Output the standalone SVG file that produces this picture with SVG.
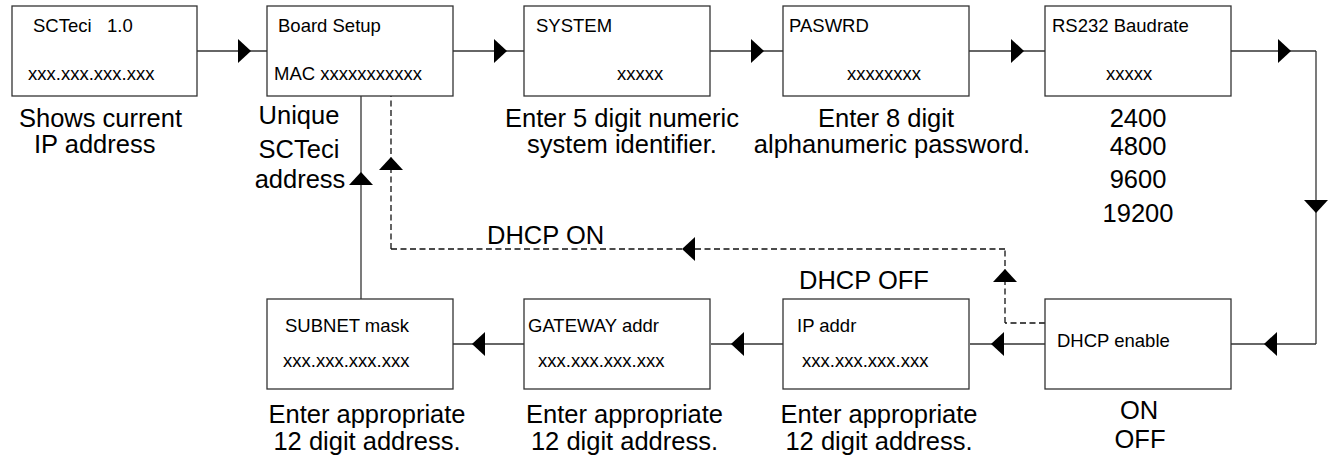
<svg xmlns="http://www.w3.org/2000/svg" width="1334" height="456" viewBox="0 0 1334 456">
<defs>
<style>
.box{fill:#fff;stroke:#333;stroke-width:1.3}
.ln{fill:none;stroke:#333;stroke-width:1.3;marker-mid:url(#ah)}
.dl{fill:none;stroke:#111;stroke-width:1.3;stroke-dasharray:6,3.5}
.dm{marker-mid:url(#ah)}
.s{font-family:"Liberation Sans",Arial,sans-serif;font-size:18.5px;fill:#000}
.b{font-family:"Liberation Sans",Arial,sans-serif;font-size:25.5px;fill:#000}
.m{text-anchor:middle}
</style>
<marker id="ah" markerUnits="userSpaceOnUse" markerWidth="14" markerHeight="26" refX="12" refY="12" orient="auto" viewBox="0 0 14 26">
<path d="M0,0 L13,12 L0,24 Z" fill="#000"/>
</marker>
</defs>
<g id="connectors">
<path class="ln" d="M197,51 H250 H267"/>
<path class="ln" d="M453,51 H506 H524"/>
<path class="ln" d="M710,51 H763 H783"/>
<path class="ln" d="M969,51 H1023 H1045"/>
<path class="ln" d="M1231,51 H1290 H1316"/>
<path class="ln" d="M1316,51 V212 V344"/>
<path class="ln" d="M1316,344 H1265 H1231"/>
<path class="ln" d="M1045,344 H992 H970"/>
<path class="ln" d="M783,344 H732 H711"/>
<path class="ln" d="M524,344 H473 H453"/>
<path class="ln" d="M361,299 V173 V96"/>
<path class="dl" d="M1045,323 H1005"/>
<path class="dl dm" d="M1005,323 V270 V249"/>
<path class="dl dm" d="M1005,249 H683 H391"/>
<path class="dl dm" d="M391,249 V158 V96"/>
</g>
<g id="n1"><rect class="box" x="12" y="6" width="185" height="90"/><text class="s" x="33" y="32">SCTeci<tspan x="107">1.0</tspan></text><text class="s" x="28" y="80">xxx.xxx.xxx.xxx</text></g>
<g id="n2"><rect class="box" x="267" y="6" width="186" height="90"/><text class="s" x="278" y="32">Board Setup</text><text class="s" x="274" y="80">MAC xxxxxxxxxxx</text></g>
<g id="n3"><rect class="box" x="524" y="6" width="186" height="90"/><text class="s" x="536" y="32">SYSTEM</text><text class="s" x="617" y="80">xxxxx</text></g>
<g id="n4"><rect class="box" x="783" y="6" width="186" height="90"/><text class="s" x="789" y="32">PASWRD</text><text class="s" x="847" y="80">xxxxxxxx</text></g>
<g id="n5"><rect class="box" x="1045" y="6" width="186" height="90"/><text class="s" x="1052" y="32">RS232 Baudrate</text><text class="s" x="1106" y="80">xxxxx</text></g>
<g id="n6"><rect class="box" x="267" y="299" width="186" height="90"/><text class="s" x="285" y="332">SUBNET mask</text><text class="s" x="283" y="367">xxx.xxx.xxx.xxx</text></g>
<g id="n7"><rect class="box" x="524" y="299" width="186" height="90"/><text class="s" x="528" y="332">GATEWAY addr</text><text class="s" x="538" y="367">xxx.xxx.xxx.xxx</text></g>
<g id="n8"><rect class="box" x="783" y="299" width="186" height="90"/><text class="s" x="797" y="332">IP addr</text><text class="s" x="802" y="367">xxx.xxx.xxx.xxx</text></g>
<g id="n9"><rect class="box" x="1045" y="299" width="186" height="90"/><text class="s" x="1057" y="347">DHCP enable</text></g>
<g id="labels">
<text class="b" x="19" y="127">Shows current</text>
<text class="b" x="34" y="153">IP address</text>
<text class="b m" x="299" y="124">Unique</text>
<text class="b m" x="299" y="158">SCTeci</text>
<text class="b m" x="300" y="188">address</text>
<text class="b m" x="622" y="127">Enter 5 digit numeric</text>
<text class="b m" x="622" y="153">system identifier.</text>
<text class="b m" x="886" y="127">Enter 8 digit</text>
<text class="b m" x="892" y="153">alphanumeric password.</text>
<text class="b m" x="1138" y="127">2400</text>
<text class="b m" x="1138" y="155">4800</text>
<text class="b m" x="1138" y="188">9600</text>
<text class="b m" x="1138" y="222">19200</text>
<text class="b" x="487" y="244">DHCP ON</text>
<text class="b" x="799" y="289">DHCP OFF</text>
<text class="b m" x="367" y="423">Enter appropriate</text>
<text class="b m" x="367" y="450">12 digit address.</text>
<text class="b m" x="624.5" y="423">Enter appropriate</text>
<text class="b m" x="624.5" y="450">12 digit address.</text>
<text class="b m" x="879" y="423">Enter appropriate</text>
<text class="b m" x="879" y="450">12 digit address.</text>
<text class="b m" x="1139" y="419">ON</text>
<text class="b m" x="1140" y="448">OFF</text>
</g>
</svg>
